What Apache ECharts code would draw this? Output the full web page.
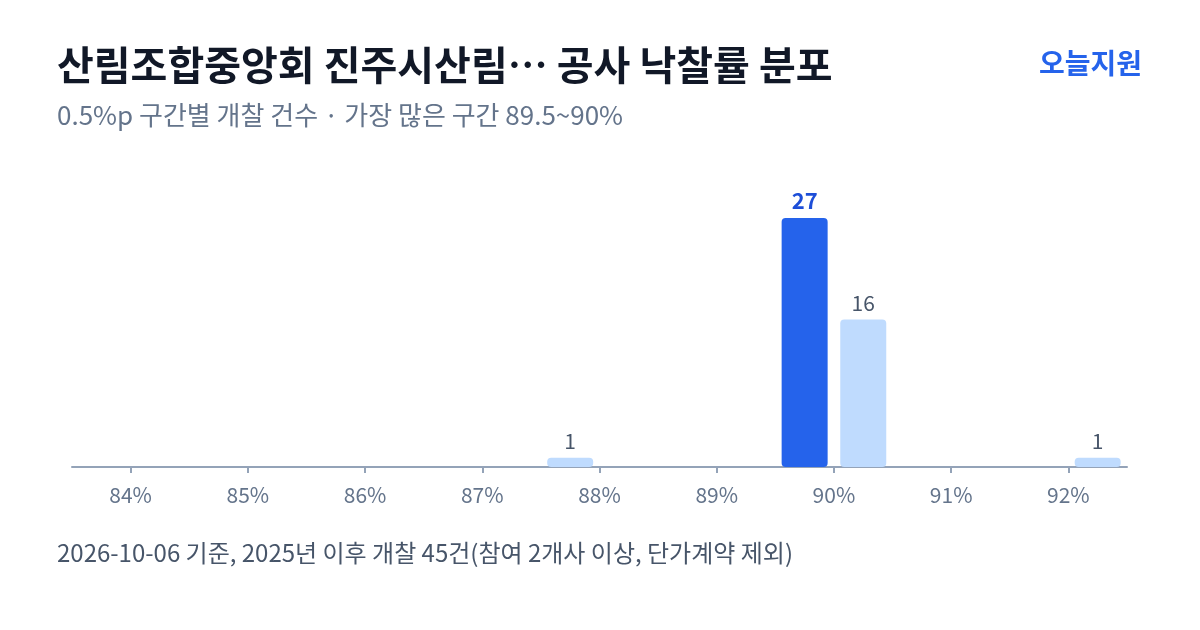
<!DOCTYPE html>
<html>
<head>
<meta charset="utf-8">
<script src="https://cdn.jsdelivr.net/npm/echarts@6/dist/echarts.min.js"></script>
<style>
  html, body { margin: 0; padding: 0; background: #fff; }
  #chart { width: 1200px; height: 630px; }
</style>
</head>
<body>
<div id="chart"></div>
<script>
// 0.5%p 구간 (시작값) 과 개찰 건수
var binStarts = [87.5, 89.5, 90.0, 92.0];
var binCounts = [1, 27, 16, 1];
var tickValues = [84, 85, 86, 87, 88, 89, 90, 91, 92];
var peakStart = 89.5;

var FONT = '"Noto Sans CJK KR", "Noto Sans", sans-serif';

var barData = binStarts.map(function (s, i) {
    var isPeak = s === peakStart;
    return {
        value: [s + 0.25, binCounts[i]],
        itemStyle: { color: isPeak ? '#2563eb' : '#bfdbfe' },
        label: isPeak ? { color: '#1d4ed8', fontWeight: 'bold', fontSize: 22 } : {}
    };
});

var option = {
    animation: false,
    textStyle: { fontFamily: FONT },
    title: [
        {
            text: '산림조합중앙회 진주시산림… 공사 낙찰률 분포',
            left: 57, top: 45, padding: 0,
            textStyle: { fontSize: 40, fontWeight: 'bold', color: '#111827', fontFamily: FONT }
        },
        {
            text: '0.5%p 구간별 개찰 건수 · 가장 많은 구간 89.5~90%',
            left: 57, top: 102, padding: 0,
            textStyle: { fontSize: 26, fontWeight: 'normal', color: '#64748b', fontFamily: FONT }
        },
        {
            text: '오늘지원',
            right: 58, top: 49, padding: 0,
            textStyle: { fontSize: 28, fontWeight: 'bold', color: '#2563eb', fontFamily: FONT }
        },
        {
            text: '2026-10-06 기준, 2025년 이후 개찰 45건(참여 2개사 이상, 단가계약 제외)',
            left: 57, top: 541, padding: 0,
            textStyle: { fontSize: 24, fontWeight: 'normal', color: '#475569', fontFamily: FONT }
        }
    ],
    grid: { left: 72, right: 73, top: 218, bottom: 163 },
    xAxis: {
        type: 'value',
        min: 83.5,
        max: 92.5,
        splitLine: { show: false },
        axisLine: { show: true, lineStyle: { color: '#94a3b8', width: 2 } },
        axisTick: { show: true, customValues: tickValues, length: 6, lineStyle: { color: '#94a3b8', width: 2 } },
        axisLabel: {
            customValues: tickValues,
            margin: 18,
            color: '#64748b',
            fontSize: 21,
            fontFamily: FONT,
            formatter: function (v) { return v + '%'; }
        }
    },
    yAxis: {
        type: 'value',
        min: 0,
        max: 27,
        show: false,
        splitLine: { show: false }
    },
    series: [{
        type: 'bar',
        barWidth: 46,
        data: barData,
        itemStyle: { borderRadius: 4 },
        label: {
            show: true,
            position: 'top',
            distance: 6,
            color: '#475569',
            fontSize: 21,
            fontFamily: FONT
        }
    }]
};

echarts.init(document.getElementById('chart')).setOption(option);
</script>
</body>
</html>
